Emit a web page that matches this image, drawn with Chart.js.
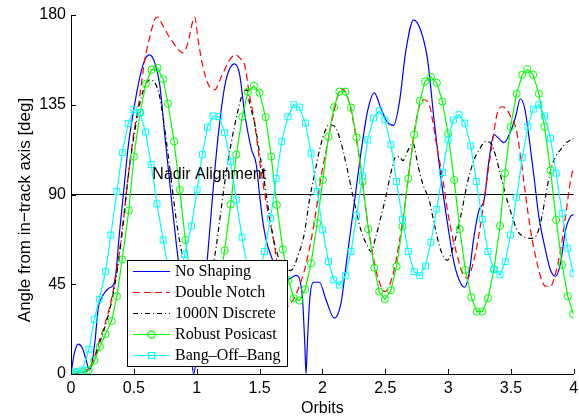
<!DOCTYPE html>
<html>
<head>
<meta charset="utf-8">
<script src="https://cdn.jsdelivr.net/npm/chart.js@4.4.1/dist/chart.umd.min.js"></script>
<style>
  html, body { margin: 0; padding: 0; background: #fff; }
  canvas { display: block; }
</style>
</head>
<body>
<canvas id="angleChart" width="579" height="420"></canvas>
<script>
// tick labels
const xTicks = [0, 0.5, 1, 1.5, 2, 2.5, 3, 3.5, 4];
const yTicks = [0, 45, 90, 135, 180];
const nadirAngle = 90;
const seriesNames = ['No Shaping', 'Double Notch', '1000N Discrete', 'Robust Posicast', 'Bang\u2013Off\u2013Bang'];

// [orbits, deg]
const noShaping = [[0,0],[0.025,10],[0.058,15],[0.09,13],[0.12,7],[0.145,2],[0.165,5],[0.19,16],[0.217,33],[0.25,39],
  [0.3,43],[0.34,45],[0.36,52],[0.38,67],[0.415,89],[0.455,114],[0.495,131],[0.548,149],[0.587,157.5],[0.625,160],
  [0.667,156],[0.706,145],[0.746,120],[0.8,87],[0.84,64],[0.88,45],[0.92,27],[0.955,10],[0.975,0],[0.99,4],
  [1.02,20],[1.05,36],[1.085,58],[1.13,92],[1.17,119],[1.222,144],[1.262,153],[1.302,155.5],[1.342,150],[1.381,131],
  [1.434,113],[1.474,105],[1.5,90],[1.527,76],[1.553,67],[1.593,59],[1.65,50],[1.714,47],[1.79,49.5],[1.84,39],
  [1.86,15],[1.87,0],[1.88,15],[1.9,38],[1.93,46],[1.976,46],[2.03,37],[2.095,28],[2.148,35.5],[2.187,54],
  [2.214,67],[2.254,86],[2.307,111],[2.36,132],[2.413,141],[2.466,133],[2.52,126],[2.567,124.7],[2.612,136],[2.665,162.5],
  [2.726,177.6],[2.784,172],[2.837,157.5],[2.889,127],[2.942,99],[2.995,75.6],[3.048,55.5],[3.1,45.5],[3.132,43.5],[3.167,50.5],
  [3.206,69],[3.246,82.3],[3.286,87],[3.325,107],[3.365,120],[3.405,118],[3.444,116],[3.497,121.6],[3.537,129],[3.575,138],
  [3.61,133],[3.643,119],[3.683,99],[3.722,79],[3.775,62],[3.815,52],[3.855,49],[3.894,55.5],[3.934,72],[3.974,79],[4,80]];

const doubleNotch = [[0,0],[0.1,1],[0.14,3],[0.18,7],[0.217,15],[0.27,25],[0.32,37],[0.373,55.5],[0.413,75.6],[0.455,99],
  [0.495,119],[0.535,134],[0.587,157.5],[0.627,169],[0.667,178],[0.69,179],[0.72,176],[0.772,170],[0.838,164],[0.89,161],
  [0.93,166],[0.965,176],[0.984,179],[1.011,167.5],[1.05,154],[1.09,145.5],[1.143,142.5],[1.196,149],[1.262,157.5],[1.31,160],
  [1.35,158],[1.381,155],[1.42,140],[1.46,126],[1.5,107],[1.553,86],[1.606,69],[1.66,48],[1.72,34],[1.75,35.5],
  [1.804,42],[1.857,52],[1.91,67],[1.95,82],[1.99,99],[2.042,116],[2.09,131],[2.148,143],[2.187,141],[2.228,132],
  [2.267,119],[2.307,102],[2.346,82],[2.386,65.5],[2.426,52],[2.466,44],[2.497,41.3],[2.53,44],[2.57,52],[2.61,65.5],
  [2.65,82],[2.69,102],[2.73,121],[2.77,134],[2.81,137.5],[2.85,135],[2.877,127],[2.916,112],[2.955,99],[2.995,82],
  [3.034,69],[3.074,59],[3.114,50.5],[3.153,48],[3.193,54],[3.233,65.5],[3.272,80.6],[3.312,99],[3.352,116],[3.392,131],
  [3.43,134],[3.47,132.4],[3.505,128],[3.537,124],[3.577,109],[3.616,90],[3.656,72],[3.696,59],[3.735,49],[3.775,44],
  [3.815,44],[3.855,50.5],[3.894,62],[3.934,79],[3.974,97],[4,104]];

const discrete1000N = [[0,0],[0.1,1],[0.14,2],[0.18,6],[0.217,13.7],[0.27,23.7],[0.32,35.5],[0.373,54],[0.413,74],[0.455,99],
  [0.508,122],[0.56,139],[0.627,147.5],[0.667,146],[0.706,139],[0.76,116],[0.8,96],[0.84,76],[0.878,62],[0.92,50],
  [0.98,43],[1.04,44],[1.1,50],[1.143,59],[1.18,75.6],[1.222,95.6],[1.275,116],[1.328,132],[1.368,141],[1.4,142.5],
  [1.42,136],[1.46,126],[1.5,111],[1.54,95.6],[1.58,79],[1.618,65.5],[1.66,57],[1.7,52],[1.75,52],[1.804,59],
  [1.857,70.6],[1.897,87.3],[1.94,101],[1.976,112],[2.016,121],[2.056,125],[2.1,124],[2.148,116],[2.2,102],[2.254,86],
  [2.307,72],[2.36,64],[2.386,61.4],[2.426,69],[2.466,79],[2.505,89],[2.545,101],[2.585,109],[2.612,109],[2.64,107],
  [2.68,112],[2.72,115.7],[2.762,104],[2.8,95],[2.85,87],[2.889,75.6],[2.942,62],[2.995,57],[3.048,65.5],[3.1,79],
  [3.153,95.6],[3.206,107.4],[3.246,112.4],[3.3,116.6],[3.34,115.7],[3.38,109],[3.42,99],[3.47,87],[3.51,79],[3.55,72],
  [3.6,69],[3.656,68],[3.696,69],[3.735,75.6],[3.775,89],[3.815,102],[3.855,109],[3.894,112.4],[3.934,115.7],[4,118]];

const robustPosicast = [[0,0],[0.045,0.5],[0.09,1],[0.14,2],[0.185,6.7],[0.23,13.7],[0.275,20],[0.323,26.6],[0.365,39],[0.407,57.5],
  [0.46,82],[0.5,109],[0.55,131],[0.595,145.5],[0.64,152.5],[0.688,153.5],[0.733,147.8],[0.772,135.5],[0.82,116.6],[0.865,92.3],
  [0.91,67.2],[0.955,47],[1,32],[1.045,24],[1.09,24],[1.135,31],[1.18,44],[1.222,62],[1.27,85],[1.315,110],
  [1.363,129],[1.407,141.5],[1.455,144.5],[1.5,141],[1.548,128.8],[1.593,109],[1.637,84.8],[1.685,62.5],[1.73,47],[1.772,38],
  [1.817,36.8],[1.863,42.5],[1.91,55.5],[1.958,75.6],[2.003,97.3],[2.048,119],[2.092,133.8],[2.135,141.6],[2.183,141.6],[2.228,133.6],
  [2.272,118.6],[2.32,96.5],[2.365,72.6],[2.413,53.3],[2.452,41.3],[2.497,37.5],[2.545,42],[2.59,54],[2.637,74],[2.683,98],
  [2.73,120],[2.775,137],[2.817,146.7],[2.863,149],[2.91,146],[2.955,136.6],[3,120.4],[3.048,97.3],[3.093,72.7],[3.137,52.2],
  [3.185,38.5],[3.228,31.3],[3.272,31.3],[3.317,38],[3.365,52.5],[3.413,74.2],[3.452,100.7],[3.497,124],[3.545,140.5],[3.59,150],
  [3.63,152.8],[3.677,150],[3.722,140.5],[3.767,124],[3.815,102],[3.86,77.3],[3.907,54.7],[3.952,39],[3.995,30]];

const bangOffBang = [[0,0.3],[0.045,1.2],[0.09,2],[0.143,12.4],[0.185,27.4],[0.225,37.5],[0.275,51.3],[0.317,69.7],[0.365,91.5],[0.408,111],
  [0.455,125.6],[0.5,132.6],[0.548,131],[0.593,121.3],[0.638,105],[0.684,85.3],[0.733,67.2],[0.778,52],[0.82,44],[0.865,48],
  [0.905,60],[0.958,74.2],[1.003,92.3],[1.045,110],[1.085,123.7],[1.13,129.4],[1.177,129],[1.222,121],[1.27,106.5],[1.315,87.3],
  [1.36,68.6],[1.405,53],[1.45,46],[1.495,50],[1.54,61.4],[1.587,78],[1.632,98],[1.677,116.6],[1.725,129],[1.772,135],
  [1.817,133.8],[1.865,125.8],[1.91,110.7],[1.958,91.5],[2.003,72.2],[2.048,56.4],[2.09,47.2],[2.135,44.6],[2.183,49.3],[2.228,61.4],
  [2.272,79.3],[2.32,99.3],[2.36,117.4],[2.407,128.3],[2.452,132],[2.497,127.4],[2.545,115],[2.59,96.5],[2.637,77.6],[2.683,61.4],
  [2.73,51.3],[2.775,49.3],[2.82,54.2],[2.863,66],[2.91,82.6],[2.955,101],[3,117.4],[3.042,127.4],[3.087,130],[3.133,125.8],
  [3.18,114.4],[3.225,96.5],[3.272,77.6],[3.317,61.4],[3.365,52.5],[3.413,49.7],[3.455,56.4],[3.497,69.7],[3.545,88.6],[3.59,108.5],
  [3.635,124],[3.677,132.8],[3.722,135],[3.767,129.4],[3.815,118.2],[3.86,100.7],[3.907,80.6],[3.952,63],[3.995,50.5]];

const pts = arr => arr.map(p => ({ x: p[0], y: p[1] }));
const SANS = '"Liberation Sans", Arial, sans-serif';
const SERIF = '"Liberation Serif", "Times New Roman", serif';

const styles = [
  { color: '#0000ff', dash: [] },
  { color: '#ff0000', dash: [7, 4] },
  { color: '#000000', dash: [5, 3, 1, 3] },
  { color: '#00ff00', dash: [], marker: 'circle' },
  { color: '#00ffff', dash: [], marker: 'rect' }
];

// matlab style inward ticks
const tickMarks = {
  id: 'tickMarks',
  afterDatasetsDraw(chart) {
    const { ctx, chartArea: a, scales: { x, y } } = chart;
    ctx.save();
    ctx.strokeStyle = '#000';
    ctx.lineWidth = 1;
    ctx.beginPath();
    xTicks.forEach(v => { const px = Math.round(x.getPixelForValue(v)) + 0.5; ctx.moveTo(px, a.bottom); ctx.lineTo(px, a.bottom - 5); });
    yTicks.forEach(v => { const py = Math.round(y.getPixelForValue(v)) + 0.5; ctx.moveTo(a.left, py); ctx.lineTo(a.left + 5, py); });
    ctx.stroke();
    ctx.restore();
  }
};

// annotation, y title and the boxed legend
const overlay = {
  id: 'overlay',
  afterDraw(chart) {
    const { ctx, scales: { x, y } } = chart;
    ctx.save();
    ctx.fillStyle = '#000';
    ctx.font = '16px ' + SANS;
    ctx.textAlign = 'center';
    ctx.textBaseline = 'middle';
    ctx.fillText('Nadir Alignment', x.getPixelForValue(1.1), y.getPixelForValue(nadirAngle + 10));

    ctx.save();
    ctx.translate(25, 210);
    ctx.rotate(-Math.PI / 2);
    ctx.font = '17px ' + SANS;
    ctx.fillText('Angle from in\u2212track axis [deg]', 0, 0);
    ctx.restore();

    // legend
    const bx = 127.5, by = 260.5, bw = 160, bh = 106;
    ctx.fillStyle = '#fff';
    ctx.fillRect(bx, by, bw, bh);
    ctx.strokeStyle = '#000';
    ctx.lineWidth = 1;
    ctx.strokeRect(bx, by, bw, bh);
    ctx.font = '16px ' + SERIF;
    ctx.textAlign = 'left';
    seriesNames.forEach((name, i) => {
      const s = styles[i];
      const ly = Math.round(271 + i * 21) + 0.5;
      ctx.strokeStyle = s.color;
      ctx.lineWidth = 1.2;
      ctx.setLineDash(s.dash);
      ctx.beginPath();
      ctx.moveTo(133, ly);
      ctx.lineTo(170, ly);
      ctx.stroke();
      ctx.setLineDash([]);
      if (s.marker === 'circle') {
        ctx.beginPath(); ctx.arc(151.5, ly, 3.6, 0, Math.PI * 2); ctx.stroke();
      } else if (s.marker === 'rect') {
        ctx.strokeRect(148.5, ly - 3, 6, 6);
      }
      ctx.fillStyle = '#000';
      ctx.fillText(name, 175, ly + 0.5);
    });
    ctx.restore();
  }
};

const seriesData = [noShaping, doubleNotch, discrete1000N, robustPosicast, bangOffBang];
const datasets = seriesData.map((d, i) => {
  const s = styles[i];
  return {
    label: seriesNames[i],
    data: pts(d),
    borderColor: s.color,
    borderWidth: 1.2,
    borderDash: s.dash,
    backgroundColor: 'rgba(0,0,0,0)',
    pointStyle: s.marker || 'circle',
    pointRadius: s.marker === 'circle' ? 3.6 : (s.marker === 'rect' ? 4.2 : 0),
    pointBorderColor: s.color,
    pointBackgroundColor: 'rgba(0,0,0,0)',
    pointBorderWidth: 1,
    cubicInterpolationMode: s.marker ? 'default' : 'monotone',
    tension: 0,
    fill: false,
    order: 5 - i
  };
});
datasets.push({
  label: 'Nadir',
  data: [{ x: 0, y: nadirAngle }, { x: 4, y: nadirAngle }],
  borderColor: '#000',
  borderWidth: 1,
  pointRadius: 0,
  fill: false,
  order: 10
});

new Chart(document.getElementById('angleChart'), {
  type: 'line',
  data: { datasets },
  options: {
    responsive: false,
    animation: false,
    devicePixelRatio: 1,
    layout: { padding: { top: 15, right: 4, left: 0, bottom: 0 } },
    plugins: { legend: { display: false }, tooltip: { enabled: false } },
    scales: {
      x: {
        type: 'linear', min: 0, max: 4,
        afterBuildTicks: s => { s.ticks = xTicks.map(v => ({ value: v })); },
        afterFit: s => { s.height = 46; s.paddingLeft = 0; s.paddingRight = 0; },
        ticks: { color: '#000', padding: 5, font: { family: SANS, size: 16 }, callback: v => String(v), maxRotation: 0 },
        grid: { display: false, drawTicks: false },
        border: { display: true, color: '#000', width: 1 },
        title: { display: true, text: 'Orbits', color: '#000', font: { family: SANS, size: 16 }, padding: { top: 0, bottom: 2 } }
      },
      y: {
        type: 'linear', min: 0, max: 180,
        afterBuildTicks: s => { s.ticks = yTicks.map(v => ({ value: v })); },
        afterFit: s => { s.width = 71; s.paddingTop = 0; s.paddingBottom = 0; },
        ticks: { color: '#000', padding: 5, font: { family: SANS, size: 16 }, callback: v => String(v) },
        grid: { display: false, drawTicks: false },
        border: { display: true, color: '#000', width: 1 }
      }
    }
  },
  plugins: [tickMarks, overlay]
});
</script>
</body>
</html>
